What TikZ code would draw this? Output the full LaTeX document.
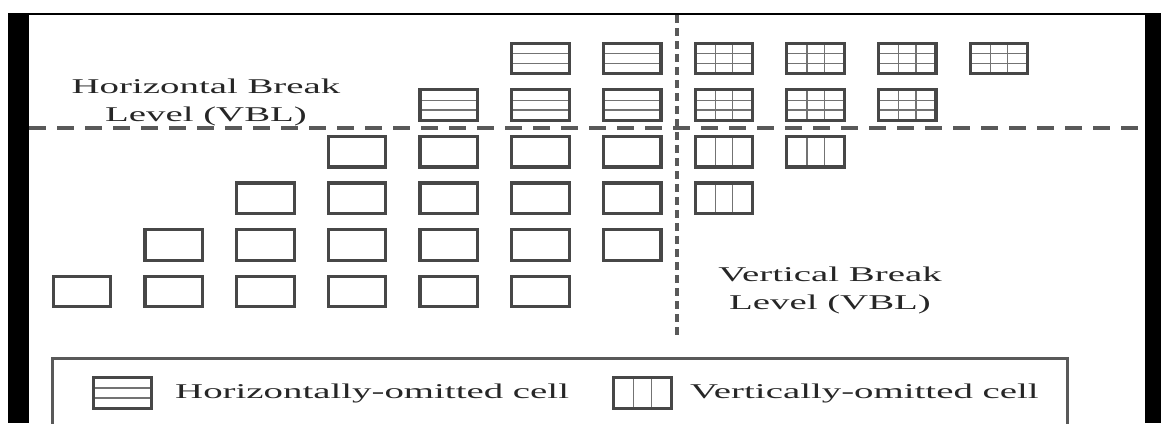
\documentclass[tikz,border=0pt]{standalone}
\usepackage{fontspec}
\setmainfont{Liberation Serif}
\begin{document}
\begin{tikzpicture}[x=1pt,y=-1pt,
  cellbox/.style={draw=black!72, line width=3.2pt, minimum width=57.5pt, minimum height=30.5pt, inner sep=0pt, fill=white},
  hcell/.style={cellbox, path picture={
      \draw[black!55, line width=1.3pt] ([yshift=-10.3pt]path picture bounding box.north west) -- ([yshift=-10.3pt]path picture bounding box.north east);
      \draw[black!55, line width=1.3pt] ([yshift=10.3pt]path picture bounding box.south west) -- ([yshift=10.3pt]path picture bounding box.south east);}},
  vcell/.style={cellbox, path picture={
      \draw[black!55, line width=1.3pt] ([xshift=20pt]path picture bounding box.north west) -- ([xshift=20pt]path picture bounding box.south west);
      \draw[black!55, line width=1.3pt] ([xshift=-20pt]path picture bounding box.north east) -- ([xshift=-20pt]path picture bounding box.south east);}},
  gcell/.style={cellbox, path picture={
      \draw[black!55, line width=1.3pt] ([yshift=-10.3pt]path picture bounding box.north west) -- ([yshift=-10.3pt]path picture bounding box.north east);
      \draw[black!55, line width=1.3pt] ([yshift=10.3pt]path picture bounding box.south west) -- ([yshift=10.3pt]path picture bounding box.south east);
      \draw[black!55, line width=1.3pt] ([xshift=20pt]path picture bounding box.north west) -- ([xshift=20pt]path picture bounding box.south west);
      \draw[black!55, line width=1.3pt] ([xshift=-20pt]path picture bounding box.north east) -- ([xshift=-20pt]path picture bounding box.south east);}},
  lbl/.style={font=\fontsize{21}{28}\selectfont, text=black!85, align=center, inner sep=0pt},
  brk/.style={draw=black!65, line width=3.3pt}
]
\useasboundingbox (0,0) rectangle (1161,423);
% frame
\fill[black] (8,13) rectangle (29,423);
\fill[black] (1145,13) rectangle (1161,423);
\draw[black, line width=2.5pt] (8,14) -- (1145,14);
% break lines
\coordinate (hl) at (29,128);
\coordinate (hr) at (1145,128);
\coordinate (vt) at (677,15);
\coordinate (vb) at (677,335);
\draw[brk, dash pattern=on 17pt off 11pt] (hl) -- (hr);
\draw[brk, dash pattern=on 8pt off 5pt] (vt) -- (vb);
% cells
\foreach \c in {5,6} \node[hcell] (r1c\c) at ({82+91.7*\c},58.5) {};
\foreach \c in {7,8,9,10} \node[gcell] (r1c\c) at ({82+91.7*\c},58.5) {};
\foreach \c in {4,5,6} \node[hcell] (r2c\c) at ({82+91.7*\c},105.1) {};
\foreach \c in {7,8,9} \node[gcell] (r2c\c) at ({82+91.7*\c},105.1) {};
\foreach \c in {3,4,5,6} \node[cellbox] (r3c\c) at ({82+91.7*\c},151.7) {};
\foreach \c in {7,8} \node[vcell] (r3c\c) at ({82+91.7*\c},151.7) {};
\foreach \c in {2,3,4,5,6} \node[cellbox] (r4c\c) at ({82+91.7*\c},198.3) {};
\node[vcell] (r4c7) at ({82+91.7*7},198.3) {};
\foreach \c in {1,...,6} \node[cellbox] (r5c\c) at ({82+91.7*\c},244.9) {};
\foreach \c in {0,...,5} \node[cellbox] (r6c\c) at ({82+91.7*\c},291.5) {};
% labels
\node[lbl] (hbl) at (206,102) {\scalebox{1.85}[1]{Horizontal Break}\\\scalebox{1.85}[1]{Level (VBL)}};
\node[lbl] (vbl) at (830,290) {\scalebox{1.85}[1]{Vertical Break}\\\scalebox{1.85}[1]{Level (VBL)}};
% legend
\draw[draw=black!65, line width=3pt] (52,424) -- (52,358) -- (1067,358) -- (1067,424);
\node[hcell] (lgh) at (122.5,393) {};
\node[lbl, anchor=west] (lght) at (175,393) {\scalebox{1.85}[1]{Horizontally-omitted cell}};
\node[vcell] (lgv) at (642.5,393) {};
\node[lbl, anchor=west] (lgvt) at (690,393) {\scalebox{1.85}[1]{Vertically-omitted cell}};
\end{tikzpicture}
\end{document}
